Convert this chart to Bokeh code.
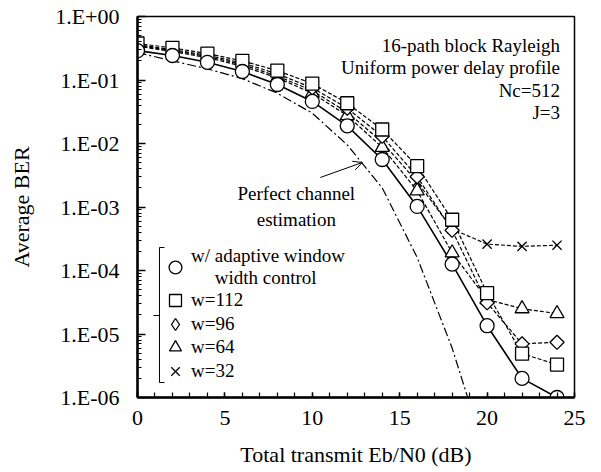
import numpy as np
from bokeh.plotting import figure
from bokeh.models import (FixedTicker, CustomJSTickFormatter, Label, Arrow, OpenHead,
                          Legend, LegendItem)
from bokeh.embed import file_html
from bokeh.resources import INLINE

# ---------------- data ----------------
snr_db = [0, 2, 4, 6, 8, 10, 12, 14, 16, 18, 20, 22, 24]
ber_adaptive = [0.29, 0.243, 0.19, 0.136, 0.085, 0.046, 0.019, 0.0056, 0.00102, 1.26e-4, 1.35e-5, 2.0e-6, 1.0e-6]
ber_w112 = [0.376, 0.32, 0.26, 0.2, 0.14, 0.088, 0.043, 0.0166, 0.0044, 6.3e-4, 4.4e-5, 4.9e-6, 3.3e-6]
ber_w96 = [0.36, 0.30, 0.245, 0.185, 0.125, 0.075, 0.036, 0.013, 0.003, 4.3e-4, 3.1e-5, 7.0e-6, 7.4e-6]
ber_w64 = [0.34, 0.28, 0.225, 0.165, 0.108, 0.062, 0.0275, 0.0087, 0.0018, 1.9e-4, 3.5e-5, 2.5e-5, 2.1e-5]
ber_w32 = [0.35, 0.29, 0.235, 0.175, 0.115, 0.068, 0.031, 0.0105, 0.0025, 4.5e-4, 2.6e-4, 2.4e-4, 2.5e-4]

perfect_snr_db = [0, 2, 4, 6, 8, 10, 12, 14, 16, 18, 19]
ber_perfect = [0.27, 0.2, 0.15, 0.105, 0.062, 0.03, 0.0095, 0.002, 1.6e-4, 6.0e-6, 8.0e-7]

x_ticks = [0, 5, 10, 15, 20, 25]
y_ticks = [1e-6, 1e-5, 1e-4, 1e-3, 1e-2, 1e-1, 1.0]
y_tick_labels = ["1.E-06", "1.E-05", "1.E-04", "1.E-03", "1.E-02", "1.E-01", "1.E+00"]

NB = "\u00a0"
legend_labels = ["w/ adaptive window\n" + NB * 5 + "width control", "w=112", "w=96", "w=64", "w=32"]
info_lines = ["16-path block Rayleigh", "Uniform power delay profile", "Nc=512", "J=3"]

FONT = "Liberation Serif"
FS = "19px"

# ---------------- figure ----------------
p = figure(width=593, height=470, y_axis_type="log", x_range=(0, 25), y_range=(1e-6, 1.0),
           output_backend="svg", toolbar_location=None, title=None,
           min_border_left=137, min_border_right=19, min_border_top=16, min_border_bottom=73)

p.xgrid.visible = False
p.ygrid.visible = False
p.outline_line_color = "black"
p.outline_line_width = 1.5
p.background_fill_color = "white"
p.border_fill_color = "white"

p.xaxis.ticker = FixedTicker(ticks=x_ticks, minor_ticks=list(range(0, 26)))
p.yaxis.ticker = FixedTicker(ticks=y_ticks,
                             minor_ticks=[m * 10.0 ** e for e in range(-6, 0) for m in range(2, 10)])
p.yaxis.formatter = CustomJSTickFormatter(args=dict(vals=y_ticks, labs=y_tick_labels), code="""
let best = 0, bd = 1e9;
for (let i = 0; i < vals.length; i++) {
  const d = Math.abs(Math.log10(vals[i]) - Math.log10(tick));
  if (d < bd) { bd = d; best = i; }
}
return labs[best];
""")

for ax in (p.xaxis[0], p.yaxis[0]):
    ax.axis_line_width = 2.5
    ax.axis_line_color = "black"
    ax.major_tick_line_color = "black"
    ax.minor_tick_line_color = "black"
    ax.major_tick_line_width = 1.5
    ax.minor_tick_line_width = 1.2
    ax.major_tick_out = 0
    ax.minor_tick_out = 0
    ax.major_label_text_font = FONT
    ax.major_label_text_font_size = "22px"
    ax.major_label_text_color = "black"
    ax.axis_label_text_font = FONT
    ax.axis_label_text_font_size = "22px"
    ax.axis_label_text_font_style = "normal"
    ax.axis_label_text_color = "black"

p.xaxis.major_tick_in = 5
p.xaxis.minor_tick_in = 5
p.yaxis.major_tick_in = 8
p.yaxis.minor_tick_in = 4
p.xaxis.major_label_standoff = 13
p.yaxis.major_label_standoff = 18
p.xaxis.axis_label = "Total transmit Eb/N0 (dB)"
p.yaxis.axis_label = "Average BER"
p.xaxis.axis_label_standoff = 14
p.yaxis.axis_label_standoff = 18

# ---------------- lines ----------------
p.line(perfect_snr_db, ber_perfect, line_color="black", line_width=1.2, line_dash="9 3 2 3")
for ys in (ber_w32, ber_w64, ber_w96, ber_w112):
    p.line(snr_db, ys, line_color="black", line_width=1.2, line_dash="4 2")
p.line(snr_db, ber_adaptive, line_color="black", line_width=1.6)

# ---------------- markers ----------------
r32 = p.scatter(snr_db, ber_w32, marker="x", size=13, line_color="black", line_width=1.3)
r64 = p.scatter(snr_db, ber_w64, marker="triangle", size=14, line_color="black",
                fill_color="white", line_width=1.3)
r96 = p.scatter(snr_db, ber_w96, marker="square", angle=np.pi / 4, size=10, line_color="black",
                fill_color="white", line_width=1.3)
r112 = p.scatter(snr_db, ber_w112, marker="square", size=13, line_color="black",
                 fill_color="white", line_width=1.3)
rad = p.scatter(snr_db, ber_adaptive, marker="circle", size=14, line_color="black",
                fill_color="white", line_width=1.3)
# legend proxy for the diamond symbol (no visible point)
r96_key = p.scatter([float("nan")], [float("nan")], marker="diamond", size=14,
                    line_color="black", fill_color="white", line_width=1.3)

# ---------------- legend: one small legend per entry, stacked ----------------
legend_renderers = [rad, r112, r96_key, r64, r32]
legend_bottoms = [108, 82, 58, 35, 11]      # frame px from bottom
legend_glyph_h = [40, 30, 30, 30, 30]
for lab, r, yb, gh in zip(legend_labels, legend_renderers, legend_bottoms, legend_glyph_h):
    p.add_layout(Legend(items=[LegendItem(label=lab, renderers=[r])],
                        location=(22, yb), border_line_color=None, background_fill_alpha=0,
                        padding=0, margin=0, spacing=0, glyph_width=32, glyph_height=gh,
                        label_height=20, label_standoff=0, label_text_font=FONT,
                        label_text_font_size=FS, label_text_color="black",
                        label_text_line_height=1.2))

# bracket around the legend (data coordinates of the annotation)
def px2x(px):
    return (px - 137) / 17.5

def py2y(py):
    return 10 ** (-(py - 16) / 63.5)

for (x0, y0, x1, y1) in [(159, 247, 159, 382), (159, 247, 164, 247), (159, 382, 164, 382),
                         (153, 315, 159, 315)]:
    p.add_layout(Arrow(end=None, x_start=px2x(x0), y_start=py2y(y0), x_end=px2x(x1),
                       y_end=py2y(y1), line_color="black", line_width=1))

# information text, top right
for i, t in enumerate(info_lines):
    p.add_layout(Label(x=px2x(560), y=py2y(45 + 22.3 * i), text=t, text_align="right",
                       text_baseline="middle", text_font=FONT, text_font_size=FS,
                       text_color="black"))

# perfect channel estimation annotation
p.add_layout(Label(x=px2x(296), y=py2y(182), text="Perfect channel\nestimation",
                   text_align="center", text_baseline="top", text_font=FONT,
                   text_font_size=FS, text_color="black", text_line_height=1.25))
p.add_layout(Arrow(end=OpenHead(size=9, line_width=1, line_color="black"),
                   x_start=px2x(320), y_start=py2y(177), x_end=px2x(362), y_end=py2y(162),
                   line_color="black", line_width=1))

open("out.html", "w").write(file_html(p, INLINE))
